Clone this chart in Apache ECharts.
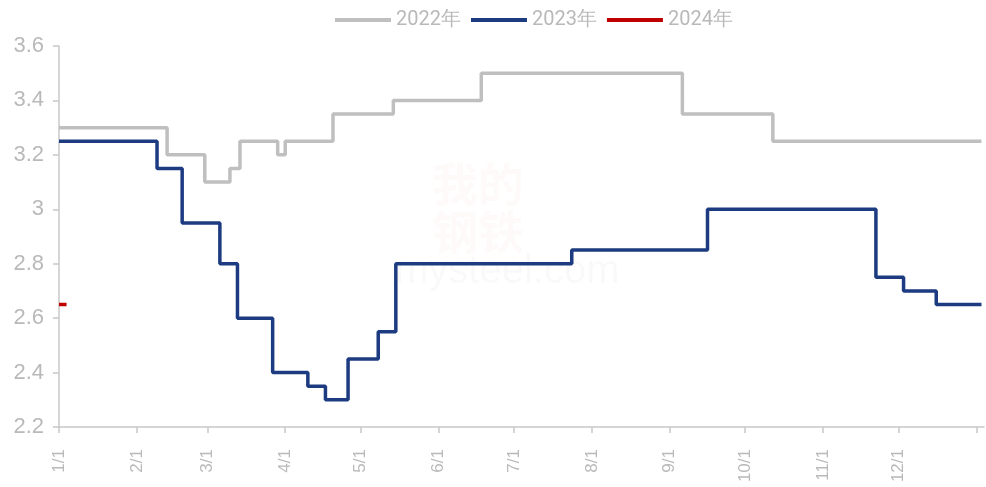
<!DOCTYPE html>
<html>
<head>
<meta charset="utf-8">
<script src="https://cdn.jsdelivr.net/npm/echarts@6/dist/echarts.min.js"></script>
<style>
html,body{margin:0;padding:0;background:#fff;}
#c{width:986px;height:487px;}
</style>
</head>
<body>
<div id="c"></div>
<script>
// Change points (month/day) and the value that holds from that day on
const dates2022 = ['1/1','2/13','2/28','3/10','3/14','3/29','4/1','4/20','5/14','6/18','9/6','10/12'];
const values2022 = [3.30, 3.20, 3.10, 3.15, 3.25, 3.20, 3.25, 3.35, 3.40, 3.50, 3.35, 3.25];

const dates2023 = ['1/1','2/9','2/19','3/6','3/13','3/27','4/10','4/17','4/26','5/8','5/15','7/24','9/16','11/22','12/3','12/16'];
const values2023 = [3.25, 3.15, 2.95, 2.80, 2.60, 2.40, 2.35, 2.30, 2.45, 2.55, 2.80, 2.85, 3.00, 2.75, 2.70, 2.65];

const dates2024 = ['1/1','1/4'];
const values2024 = [2.65, 2.65];

const seriesNames = ['2022年','2023年','2024年'];
const yTicks = [2.2, 2.4, 2.6, 2.8, 3.0, 3.2, 3.4, 3.6];

const BASE_YEAR = 2023;
function ts(md, yearOffset) {
  const p = md.split('/');
  return new Date(BASE_YEAR + (yearOffset || 0), +p[0] - 1, +p[1]).getTime();
}
const lineEnd = new Date(BASE_YEAR + 1, 0, 3).getTime();
const axisMin = ts('1/1');
const axisMax = new Date(BASE_YEAR + 1, 0, 4).getTime();

function build(dates, values, extend) {
  const d = dates.map((m, i) => [ts(m), values[i]]);
  if (extend) d.push([lineEnd, values[values.length - 1]]);
  return d;
}

const chart = echarts.init(document.getElementById('c'), null, {renderer: 'canvas'});
const labelColor = '#b9b9b9';
const axisColor = '#c8c8c8';
chart.setOption({
  animation: false,
  backgroundColor: '#fff',
  textStyle: {fontFamily: 'Liberation Sans'},
  graphic: [
    {type: 'text', left: 432, top: 160, style: {text: '我的\n钢铁', fontSize: 46, lineHeight: 48, fill: 'rgba(200,60,60,0.025)', fontWeight: 'bold', fontFamily: 'Noto Sans CJK SC'}, z: -1},
    {type: 'text', left: 395, top: 252, style: {text: 'mysteel.com', fontSize: 40, fill: 'rgba(0,0,0,0.025)', fontFamily: 'Liberation Sans'}, z: -1}
  ],
  legend: {
    left: 330, top: 5,
    itemWidth: 56, itemHeight: 4, itemGap: 10,
    icon: 'rect',
    textStyle: {color: labelColor, fontSize: 20, fontFamily: 'Roboto'},
    data: seriesNames
  },
  grid: {left: 59, right: 2, top: 46, bottom: 60, containLabel: false},
  xAxis: {
    type: 'time',
    min: axisMin, max: axisMax,
    splitNumber: 12,
    axisLine: {lineStyle: {color: axisColor, width: 1.5}},
    axisTick: {show: true, length: 6, lineStyle: {color: axisColor, width: 1.5}},
    minorTick: {show: false},
    axisLabel: {
      rotate: 90, margin: 22,
      color: labelColor, fontSize: 17, fontWeight: 'normal',
      showMinLabel: true, showMaxLabel: false,
      formatter: function (v) {
        const d = new Date(v);
        if (d.getFullYear() !== BASE_YEAR) return '';
        return '{t|' + (d.getMonth() + 1) + '/' + d.getDate() + '}';
      },
      rich: {t: {fontSize: 17, color: labelColor, fontWeight: 'normal', fontFamily: 'Liberation Sans'}}
    },
    splitLine: {show: false}
  },
  yAxis: {
    type: 'value',
    min: yTicks[0], max: yTicks[yTicks.length - 1], interval: 0.2,
    axisLine: {show: true, lineStyle: {color: axisColor, width: 1.5}},
    axisTick: {show: true, length: 6, lineStyle: {color: axisColor, width: 1.5}},
    axisLabel: {color: labelColor, fontSize: 22, margin: 15, formatter: function (v) { return +v.toFixed(1) + ''; }},
    splitLine: {show: false}
  },
  series: [
    {name: seriesNames[0], type: 'line', step: 'end', showSymbol: false, symbol: 'none',
     data: build(dates2022, values2022, true), lineStyle: {color: '#bfbfbf', width: 3.5}, itemStyle: {color: '#bfbfbf'}, z: 2},
    {name: seriesNames[1], type: 'line', step: 'end', showSymbol: false, symbol: 'none',
     data: build(dates2023, values2023, true), lineStyle: {color: '#1c3b80', width: 3.5}, itemStyle: {color: '#1c3b80'}, z: 3},
    {name: seriesNames[2], type: 'line', step: 'end', showSymbol: false, symbol: 'none',
     data: build(dates2024, values2024, false), lineStyle: {color: '#c00000', width: 3.5}, itemStyle: {color: '#c00000'}, z: 4}
  ]
});
</script>
</body>
</html>
